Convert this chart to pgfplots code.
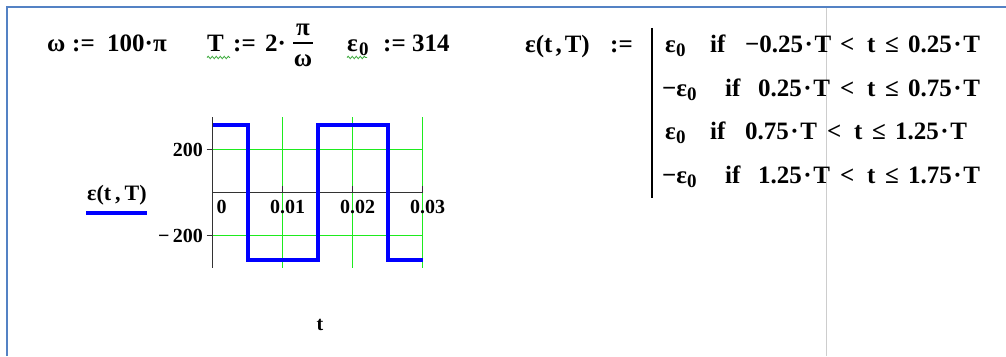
\documentclass[border=0pt]{standalone}
\usepackage{fontspec}
\setmainfont{Liberation Serif}
\usepackage{pgfplots}
\pgfplotsset{compat=1.18}
\usetikzlibrary{decorations.pathmorphing}

\definecolor{framebl}{RGB}{84,130,196}
\definecolor{gridgr}{RGB}{30,235,30}
\definecolor{sigbl}{RGB}{0,0,255}
\definecolor{sepgr}{RGB}{205,205,205}
\definecolor{squig}{RGB}{60,170,60}

\newcommand\ff{\fontsize{25}{30}\selectfont\bfseries}
\newcommand\fs{\fontsize{20}{24}\selectfont\bfseries}
\newcommand\fsub{\fontsize{19}{22}\selectfont\bfseries}
\newcommand\cd{\hspace{1.5pt}·\hspace{1.5pt}}

% a piece of a worksheet formula: left edge, baseline measured from the top
\newcommand\tok[3]{\node[anchor=base west, inner sep=0pt] at (#1, 356-#2) {\ff #3};}
\newcommand\sub[3]{\node[anchor=base west, inner sep=0pt] at (#1, 352-#2) {\fsub #3};}

\begin{document}
\begin{tikzpicture}[x=1pt,y=1pt]
\useasboundingbox (0,0) rectangle (1006,356);
\fill[white] (0,0) rectangle (1006,356);

% region frame and page separator
\draw[framebl, line width=2pt] (7,0) -- (7,349) -- (1006,349);
\draw[sepgr, line width=1.5pt] (826.5,0) -- (826.5,348);

% definitions
\tok{47}{52}{ω}
\tok{72}{52}{:=}
\tok{107}{52}{100·π}
\tok{207}{52}{T}
\tok{233}{52}{:=}
\tok{265}{52}{2·}
\node[anchor=base, inner sep=0pt] at (303, 356-36) {\ff π};
\draw[line width=1.3pt] (293,313) -- (313,313);
\node[anchor=base, inner sep=0pt] at (303, 356-67) {\ff ω};
\tok{347}{52}{ε}
\sub{359}{52}{0}
\tok{383}{52}{:=}
\tok{412}{52}{314}
\draw[squig, line width=0.8pt, decorate, decoration={snake, amplitude=1.2pt, segment length=4pt}] (207,298.5) -- (230,298.5);
\draw[squig, line width=0.8pt, decorate, decoration={snake, amplitude=1.2pt, segment length=4pt}] (347,298.5) -- (367,298.5);

% piecewise function
\tok{525}{53}{ε(t\hspace{3pt},\hspace{3pt}T)}
\tok{610}{53}{:=}
\draw[line width=2pt] (652, 356-28) -- (652, 356-198);

\tok{665}{53}{ε}\sub{676}{53}{0}
\tok{710}{53}{if}\tok{745}{53}{−0.25\cd T}
\tok{840}{53}{<}\tok{867}{53}{t}\tok{885}{53}{≤}\tok{908}{53}{0.25\cd T}

\tok{662}{97}{−ε}\sub{687}{97}{0}
\tok{725}{97}{if}\tok{758}{97}{0.25\cd T}
\tok{840}{97}{<}\tok{867}{97}{t}\tok{885}{97}{≤}\tok{908}{97}{0.75\cd T}

\tok{665}{140}{ε}\sub{676}{140}{0}
\tok{710}{140}{if}\tok{745}{140}{0.75\cd T}
\tok{827}{140}{<}\tok{854}{140}{t}\tok{872}{140}{≤}\tok{895}{140}{1.25\cd T}

\tok{662}{184}{−ε}\sub{687}{184}{0}
\tok{725}{184}{if}\tok{758}{184}{1.25\cd T}
\tok{840}{184}{<}\tok{867}{184}{t}\tok{885}{184}{≤}\tok{908}{184}{1.75\cd T}

% the plot
\begin{axis}[
  at={(212.5pt,163.5pt)}, anchor=origin, scale only axis,
  width=210pt, height=150.93pt,
  xmin=0, xmax=0.03, ymin=-351, ymax=351,
  axis x line=middle, axis y line=left,
  hide obscured x ticks=false, hide obscured y ticks=false,
  scaled x ticks=false, scaled y ticks=false,
  axis line style={-, line width=1pt, black!80},
  xtick={0,0.01,0.02,0.03}, xticklabels={\hspace*{8pt}0,0.01,0.02,0.03},
  ytick={-200,200}, yticklabels={−\,200,200},
  grid=major,
  major grid style={draw=gridgr, line width=1.8pt},
  tick style={black!80, line width=1pt},
  major tick length=6pt, xtick align=inside, ytick align=outside,
  ticklabel style={font=\fs},
  xticklabel style={anchor=north, xshift=5pt, yshift=-4pt},
  yticklabel style={anchor=east},
  clip=false,
]
\addplot[sigbl, line width=4pt, line join=miter] coordinates {
  (0,314) (0.005,314) (0.005,-314) (0.015,-314)
  (0.015,314) (0.025,314) (0.025,-314) (0.03,-314)
};
\end{axis}

% axis label and trace key
\node[anchor=base west, inner sep=0pt] at (87, 356-201) {\fontsize{22}{26}\selectfont\bfseries ε(t\hspace{4pt},\hspace{4pt}T)};
\draw[sigbl, line width=4pt] (86,142.5) -- (147,142.5);
\node[anchor=base, inner sep=0pt] at (320, 356-330) {\fs t};
\end{tikzpicture}
\end{document}
